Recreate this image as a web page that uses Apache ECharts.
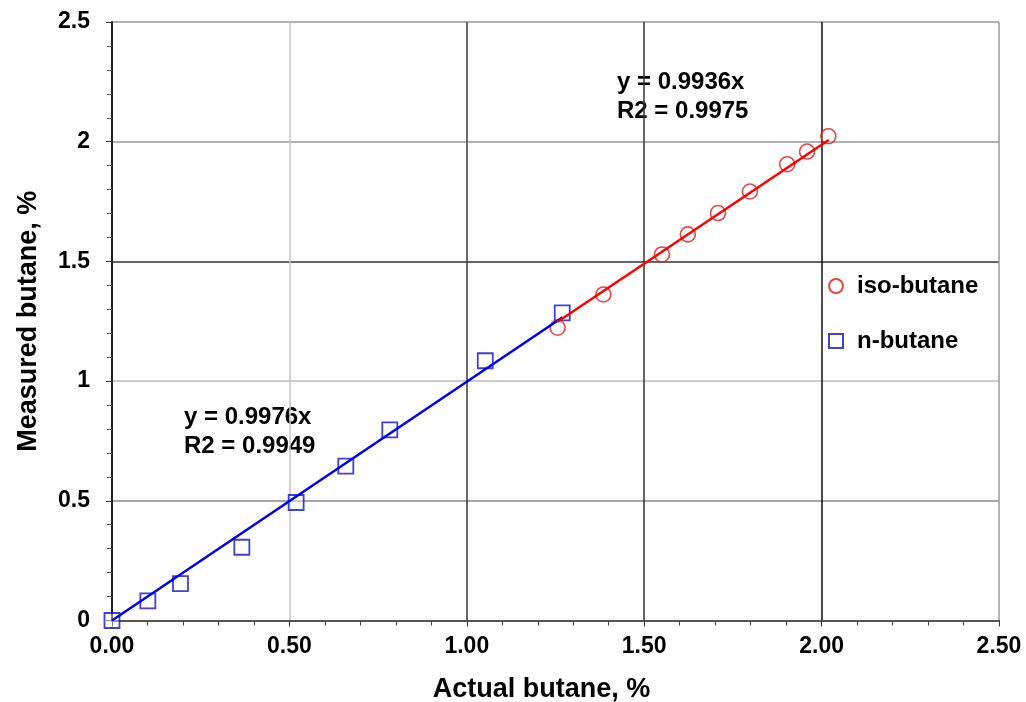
<!DOCTYPE html>
<html>
<head>
<meta charset="utf-8">
<script src="https://cdn.jsdelivr.net/npm/echarts@6/dist/echarts.min.js"></script>
<style>
  html, body { margin: 0; padding: 0; background: #fff; }
  #chart { width: 1026px; height: 702px; }
</style>
</head>
<body>
<div id="chart"></div>
<script>
// measured points, [actual %, measured %]
var nButane = [
  [0.000, 0.000], [0.101, 0.082], [0.193, 0.154], [0.366, 0.306],
  [0.519, 0.493], [0.659, 0.645], [0.783, 0.796], [1.052, 1.085],
  [1.269, 1.285]
];
var isoButane = [
  [1.256, 1.223], [1.385, 1.362], [1.550, 1.529], [1.623, 1.613],
  [1.708, 1.702], [1.798, 1.792], [1.903, 1.906], [1.959, 1.959],
  [2.019, 2.023]
];
// trendline end points (y = 0.9976x and y = 0.9936x)
var nTrend = [[0, 0], [1.27, 1.267]];
var isoTrend = [[1.256, 1.248], [2.02, 2.007]];

var xTicks = ['0.00', '0.50', '1.00', '1.50', '2.00', '2.50'];
var yTicks = ['0', '0.5', '1', '1.5', '2', '2.5'];

var font = '"Liberation Sans", Arial, sans-serif';

var chart = echarts.init(document.getElementById('chart'));

chart.setOption({
  animation: false,
  backgroundColor: '#fff',
  grid: { left: 112, right: 27, top: 22, bottom: 81.5, containLabel: false, outerBoundsMode: 'none' },
  xAxis: {
    type: 'value', min: 0, max: 2.5, interval: 0.5,
    name: 'Actual butane, %', nameLocation: 'middle', nameGap: 56,
    nameTextStyle: { fontFamily: font, fontWeight: 'bold', fontSize: 27, color: '#000', padding: [0, 28, 0, 0] },
    axisLine: { show: true, lineStyle: { color: '#555', width: 2 } },
    axisTick: { show: true, length: 6, lineStyle: { color: '#333' } },
    minorTick: { show: true, splitNumber: 5, length: 5, lineStyle: { color: '#444' } },
    axisLabel: {
      fontFamily: font, fontWeight: 'bold', fontSize: 23, color: '#000', margin: 15,
      formatter: function (v) { return xTicks[Math.round(v / 0.5)]; }
    },
    splitLine: { show: true, lineStyle: { width: 1.5, color: ['#fff', '#c4c4c4', '#3a3a3a', '#333', '#111', '#999'] } }
  },
  yAxis: {
    type: 'value', min: 0, max: 2.5, interval: 0.5,
    name: 'Measured butane, %', nameLocation: 'middle', nameGap: 70, nameRotate: 90,
    nameTextStyle: { fontFamily: font, fontWeight: 'bold', fontSize: 27, color: '#000' },
    axisLine: { show: true, lineStyle: { color: '#222', width: 2 } },
    axisTick: { show: true, length: 6, lineStyle: { color: '#333' } },
    minorTick: { show: true, splitNumber: 5, length: 5, lineStyle: { color: '#555' } },
    axisLabel: {
      fontFamily: font, fontWeight: 'bold', fontSize: 23, color: '#000', margin: 22,
      formatter: function (v) { return yTicks[Math.round(v / 0.5)]; }
    },
    splitLine: { show: true, lineStyle: { width: 1.5, color: ['#fff', '#8a8a8a', '#bdbdbd', '#333', '#999', '#999'] } }
  },
  legend: {
    orient: 'vertical', left: 823, top: 269,
    itemWidth: 14, itemHeight: 14, itemGap: 31,
    data: ['iso-butane', 'n-butane'],
    textStyle: { fontFamily: font, fontWeight: 'bold', fontSize: 24, color: '#000', padding: [0, 0, 0, 9] }
  },
  graphic: [
    { type: 'text', left: 617, top: 70, style: { text: 'y = 0.9936x', font: 'bold 24px ' + font, fill: '#000' } },
    { type: 'text', left: 617, top: 99, style: { text: 'R2 = 0.9975', font: 'bold 24px ' + font, fill: '#000' } },
    { type: 'text', left: 184, top: 405, style: { text: 'y = 0.9976x', font: 'bold 24px ' + font, fill: '#000' } },
    { type: 'text', left: 184, top: 434, style: { text: 'R2 = 0.9949', font: 'bold 24px ' + font, fill: '#000' } }
  ],
  series: [
    {
      name: 'n-butane', type: 'scatter', data: nButane, symbol: 'rect', symbolSize: 15, z: 2,
      itemStyle: { color: 'rgba(255,255,255,0.5)', borderColor: '#1010c8', borderWidth: 1.8 }
    },
    {
      name: 'iso-butane', type: 'scatter', data: isoButane, symbol: 'circle', symbolSize: 15, z: 2,
      itemStyle: { color: 'rgba(255,255,255,0.3)', borderColor: '#e01818', borderWidth: 1.6 }
    },
    {
      name: 'n-trend', type: 'line', data: nTrend, symbol: 'none', z: 3,
      lineStyle: { color: '#0000ee', width: 2.5 }
    },
    {
      name: 'iso-trend', type: 'line', data: isoTrend, symbol: 'none', z: 3,
      lineStyle: { color: '#ff0000', width: 2.5 }
    }
  ]
});
</script>
</body>
</html>
